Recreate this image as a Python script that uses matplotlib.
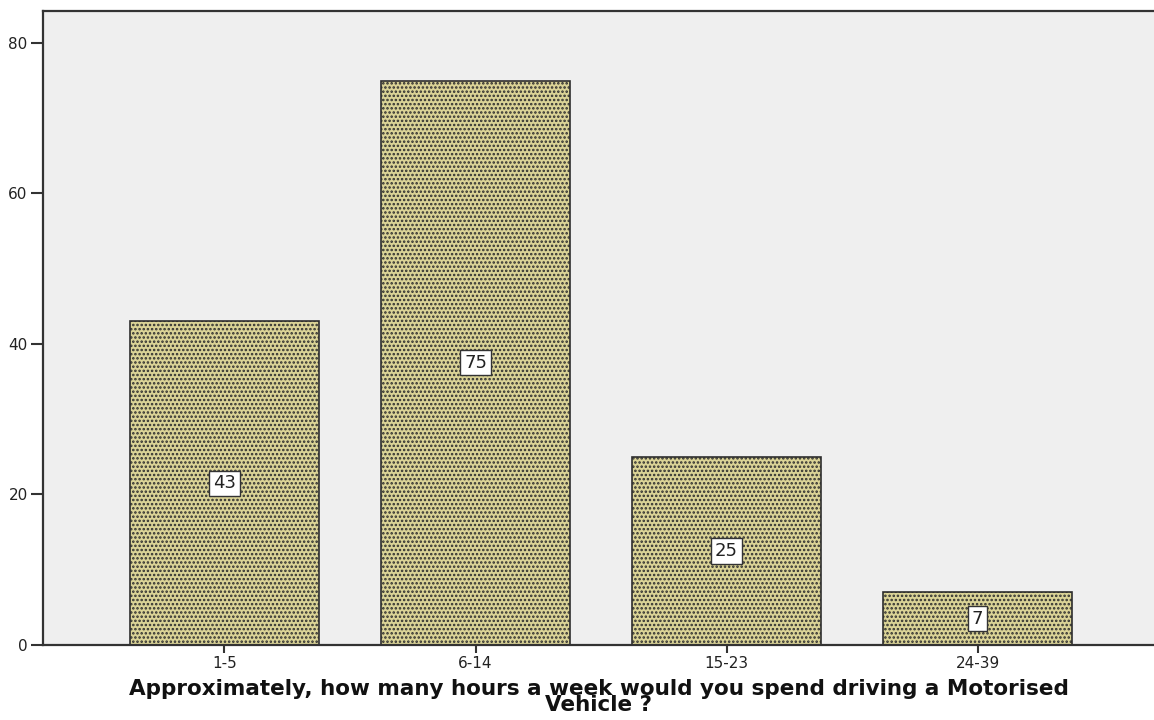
"""Bar chart of weekly hours spent driving a motorised vehicle"""

import matplotlib
matplotlib.use("Agg")
import matplotlib.pyplot as plt

categories = ["1-5", "6-14", "15-23", "24-39"]
counts = [43, 75, 25, 7]
y_ticks = [0, 20, 40, 60, 80]

plt.rcParams["font.family"] = ["DejaVu Sans"]
plt.rcParams["hatch.color"] = "#85804f"
plt.rcParams["hatch.linewidth"] = 1.2

fig = plt.figure(figsize=(11.54, 7.2), dpi=100)
ax = fig.add_axes([43 / 1154, 75 / 720, 1111 / 1154, 634 / 720])
ax.set_facecolor("#efefef")

x = list(range(len(categories)))
bars = ax.bar(x, counts, width=0.753, color="#dad396", edgecolor="#2e2e2e",
              linewidth=1.2, hatch="....", zorder=2)

# value boxes in the middle of each bar
for xi, c in zip(x, counts):
    ax.text(xi, c / 2, str(c), ha="center", va="center", fontsize=13,
            color="#222222", zorder=3,
            bbox=dict(boxstyle="square,pad=0.2", facecolor="white",
                      edgecolor="#333333", linewidth=1))

ax.set_xlim(-0.723, 3.703)
ax.set_ylim(0, 84.25)
ax.set_yticks(y_ticks)
ax.set_xticks(x)
ax.set_xticklabels(categories)
ax.tick_params(axis="y", length=9, width=1.5, labelsize=11, pad=2,
               color="#333333", labelcolor="#222222")
ax.tick_params(axis="x", length=6, width=1.5, labelsize=11, pad=2,
               color="#333333", labelcolor="#222222")

for side in ["left", "bottom", "top"]:
    ax.spines[side].set_linewidth(1.6)
    ax.spines[side].set_color("#333333")
ax.spines["right"].set_visible(False)

ax.set_xlabel("Approximately, how many hours a week would you spend driving a Motorised\nVehicle ?",
              fontsize=15.5, fontweight="bold", labelpad=6, linespacing=0.72,
              color="#111111")

fig.savefig("out.png", dpi=100)
